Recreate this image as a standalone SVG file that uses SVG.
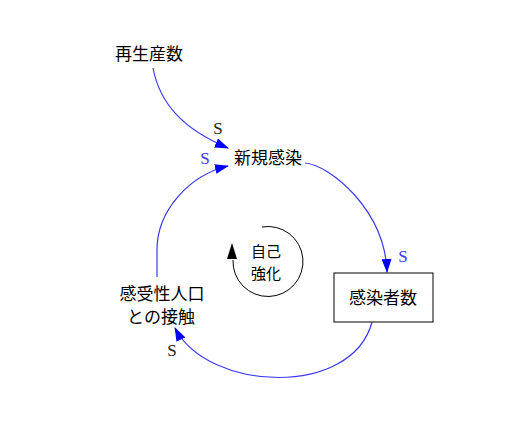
<svg xmlns="http://www.w3.org/2000/svg" width="510" height="433" viewBox="0 0 510 433">
<defs>
<style>
.t{font-family:"Noto Sans CJK JP","Noto Sans CJK SC",sans-serif;font-size:17px;fill:#000;}
.s{font-family:"Liberation Serif",serif;font-size:17px;}
.sd{fill:#222;}
.sb{fill:#3a3af0;}
.c{fill:none;stroke:#3a3af5;stroke-width:1.2;}
</style>
<marker id="ah" markerWidth="14" markerHeight="10" refX="13" refY="5" orient="auto" markerUnits="userSpaceOnUse">
<path d="M0,0 L14,5 L0,10 Z" fill="#0000ff"/>
</marker>
</defs>
<rect width="510" height="433" fill="#fff"/>
<g id="connectors">
<path class="c" d="M153,68 C160,105 185,130 228,148" marker-end="url(#ah)"/>
<path class="c" d="M157,277 L157,250 C157,210 190,175 228,166" marker-end="url(#ah)"/>
<path class="c" d="M305,163 C330,165 385,210 387,272" marker-end="url(#ah)"/>
<path class="c" d="M372,322 C352,398 208,392 175,328" marker-end="url(#ah)"/>
</g>
<g id="n_saiseisansu"><text class="t" x="149" y="60" text-anchor="middle">再生産数</text></g>
<g id="n_shinki"><text class="t" x="268" y="164" text-anchor="middle">新規感染</text></g>
<g id="n_kansensha"><rect x="334" y="273" width="99" height="49" fill="#fff" stroke="#000" stroke-width="1"/><text class="t" x="383" y="304" text-anchor="middle">感染者数</text></g>
<g id="n_sesshoku"><text class="t" x="162" y="300" text-anchor="middle">感受性人口</text><text class="t" x="161" y="323" text-anchor="middle">との接触</text></g>
<g id="loop">
<path d="M262,227 A35,35 0 1 1 233,260" fill="none" stroke="#000" stroke-width="1"/>
<polygon points="232,243 227,259 237,259" fill="#000"/>
<text class="t" x="266" y="257" text-anchor="middle" style="font-size:15px">自己</text>
<text class="t" x="266" y="279" text-anchor="middle" style="font-size:15px">強化</text>
</g>
<g id="labels">
<text class="s sd" x="218" y="134" text-anchor="middle">S</text>
<text class="s sb" x="205" y="164" text-anchor="middle">S</text>
<text class="s sb" x="403" y="262" text-anchor="middle">S</text>
<text class="s sd" x="172" y="356" text-anchor="middle">S</text>
</g>
</svg>
